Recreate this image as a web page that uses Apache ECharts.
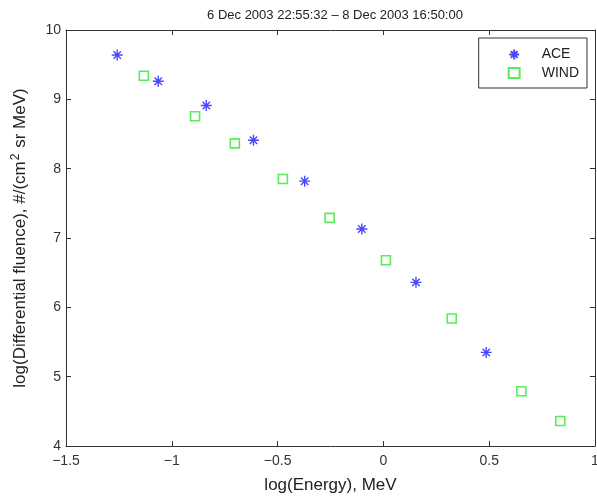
<!DOCTYPE html>
<html>
<head>
<meta charset="utf-8">
<script src="https://cdn.jsdelivr.net/npm/echarts@6/dist/echarts.min.js"></script>
<style>
  html, body { margin: 0; padding: 0; background: #fff; }
  #chart { width: 597px; height: 498px; }
</style>
</head>
<body>
<div id="chart"></div>
<script>
  // log(Energy) vs log(fluence)
  var aceX = [-1.258, -1.064, -0.837, -0.614, -0.372, -0.102, 0.154, 0.486];
  var aceY = [9.64, 9.26, 8.91, 8.41, 7.82, 7.13, 6.36, 5.35];
  var windX = [-1.132, -0.890, -0.702, -0.475, -0.254, 0.012, 0.323, 0.652, 0.836];
  var windY = [9.34, 8.755, 8.365, 7.85, 7.29, 6.68, 5.84, 4.79, 4.36];

  var titleText = '6 Dec 2003 22:55:32 \u2013 8 Dec 2003 16:50:00';
  var xName = 'log(Energy), MeV';

  function pairs(xs, ys) {
    return xs.map(function (x, i) { return [x, ys[i]]; });
  }

  var star = 'path://M0,5L10,5M5,0L5,10M1.6,1.6L8.4,8.4M8.4,1.6L1.6,8.4';
  var axisColor = '#333';
  var font = 'Liberation Sans, Arial, sans-serif';

  var ticksInside = { show: true, inside: true, length: 5, lineStyle: { color: axisColor } };
  var boxLine = { show: true, onZero: false, lineStyle: { color: axisColor } };

  var option = {
    animation: false,
    backgroundColor: '#fff',
    title: {
      text: titleText,
      left: 330,
      textAlign: 'center',
      top: 4,
      textStyle: { fontSize: 13, fontWeight: 'normal', color: '#222', fontFamily: font }
    },
    grid: { left: 66, right: 2, top: 30, bottom: 52, outerBoundsMode: 'none' },
    legend: {
      orient: 'vertical',
      right: 10,
      top: 38,
      width: 111,
      padding: [9, 8, 8, 28],
      itemGap: 4,
      itemWidth: 11,
      itemHeight: 10,
      borderColor: '#333',
      borderWidth: 1,
      backgroundColor: '#fff',
      textStyle: { fontSize: 14, color: '#222', fontFamily: font, padding: [0, 0, 0, 17] },
      data: ['ACE', 'WIND']
    },
    xAxis: [{
      type: 'value',
      min: -1.5, max: 1, interval: 0.5,
      name: xName,
      nameLocation: 'middle',
      nameGap: 31,
      nameTextStyle: { fontSize: 17, color: '#222', fontFamily: font },
      axisLine: boxLine,
      axisTick: ticksInside,
      axisLabel: {
        fontSize: 14, color: '#333', fontFamily: font, margin: 8,
        formatter: function (v) { return String(v).replace('-', '\u2212'); }
      },
      splitLine: { show: false }
    }, {
      type: 'value', position: 'top',
      min: -1.5, max: 1, interval: 0.5,
      axisLine: boxLine,
      axisTick: ticksInside,
      axisLabel: { show: false },
      splitLine: { show: false }
    }],
    yAxis: [{
      type: 'value',
      min: 4, max: 10, interval: 1,
      name: '{a|log(Differential fluence), #/(cm}{s|2}{a| sr MeV)}',
      nameLocation: 'middle',
      nameGap: 36,
      nameTextStyle: {
        rich: {
          a: { fontSize: 17, color: '#222', fontFamily: font },
          s: { fontSize: 12, color: '#222', fontFamily: font, verticalAlign: 'top', padding: [0, 1, 8, 1] }
        }
      },
      axisLine: boxLine,
      axisTick: ticksInside,
      axisLabel: { fontSize: 14, color: '#333', fontFamily: font, margin: 5 },
      splitLine: { show: false }
    }, {
      type: 'value', position: 'right',
      min: 4, max: 10, interval: 1,
      axisLine: boxLine,
      axisTick: ticksInside,
      axisLabel: { show: false },
      splitLine: { show: false }
    }],
    series: [{
      name: 'ACE',
      type: 'scatter',
      symbol: star,
      symbolSize: 11,
      itemStyle: { color: 'none', borderColor: '#1a1aff', borderWidth: 1.4 },
      data: pairs(aceX, aceY)
    }, {
      name: 'WIND',
      type: 'scatter',
      symbol: 'rect',
      symbolSize: 9,
      itemStyle: { color: '#fff', borderColor: '#2ee82e', borderWidth: 1.6 },
      data: pairs(windX, windY)
    }]
  };

  var chart = echarts.init(document.getElementById('chart'));
  chart.setOption(option);
</script>
</body>
</html>
